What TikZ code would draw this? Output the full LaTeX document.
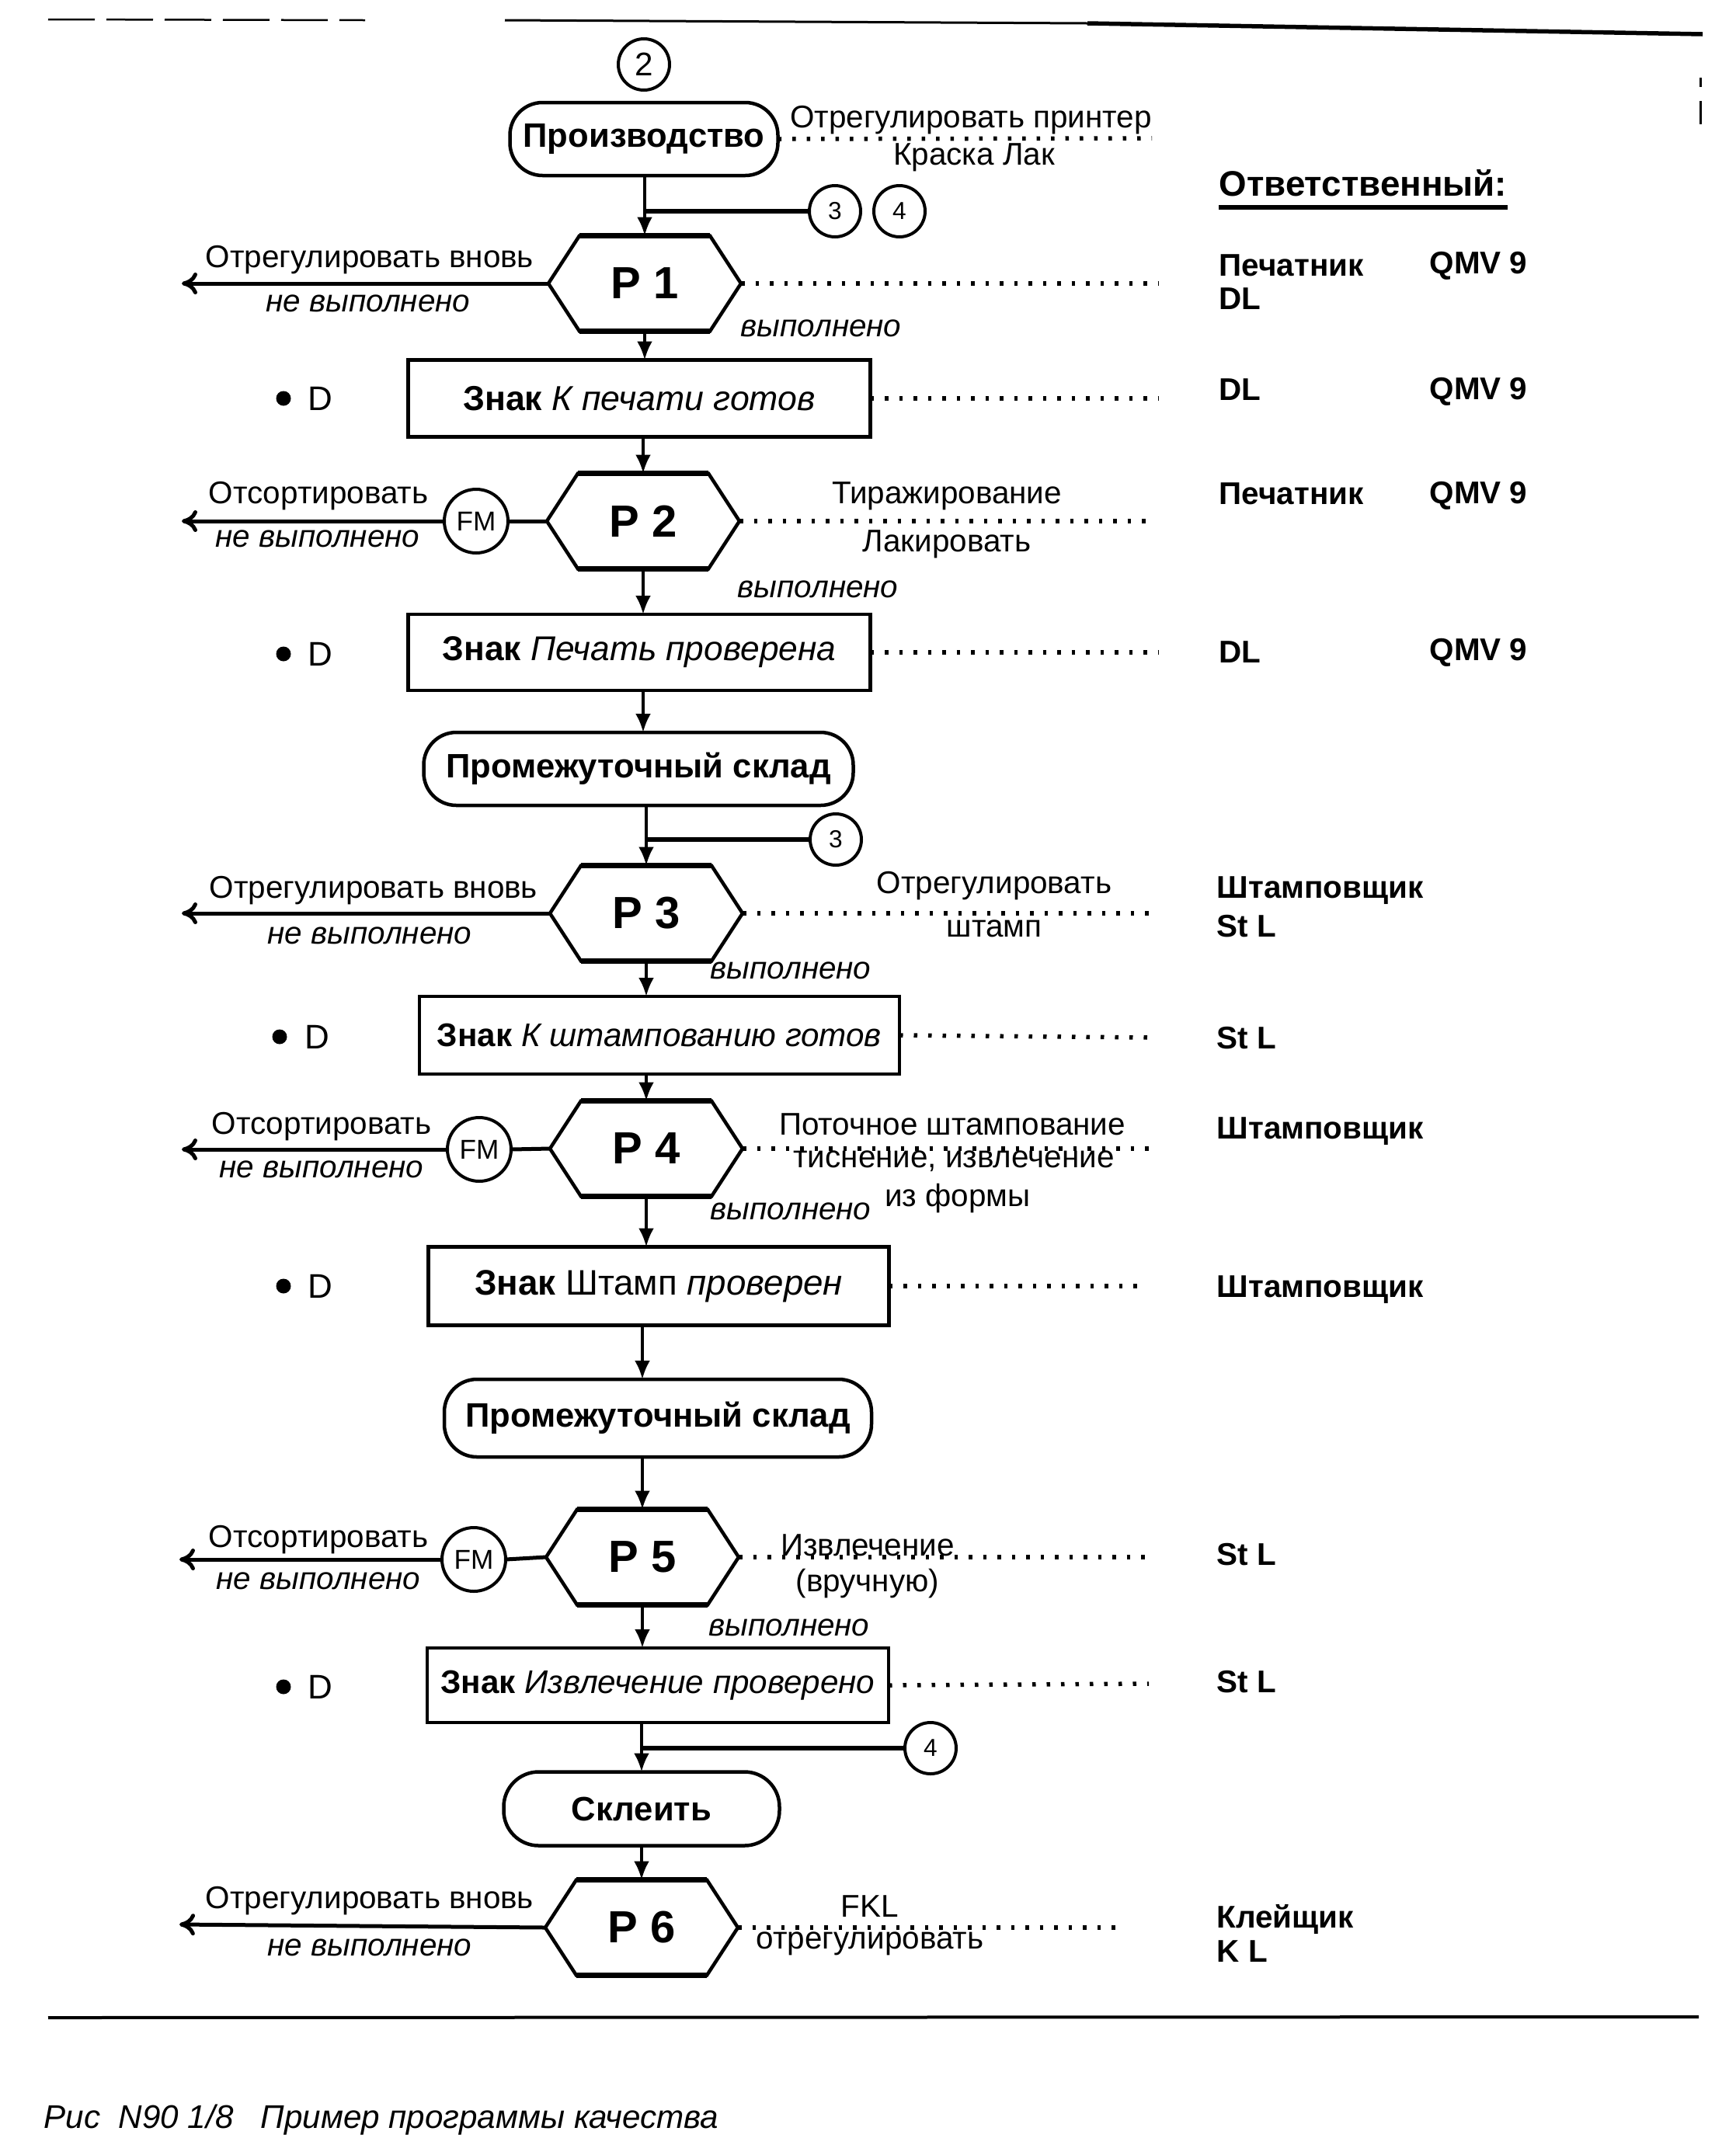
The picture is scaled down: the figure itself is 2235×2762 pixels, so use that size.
\documentclass[tikz,border=0pt]{standalone}
\usepackage{fontspec}
\setmainfont{Liberation Sans}
\usetikzlibrary{arrows.meta,calc}
\tikzset{
  shp/.style={draw, line width=0.45mm},
  hexnode/.style={inner sep=0, outer sep=0, minimum width=24.8mm, minimum height=12.3mm, font=\bfseries\fontsize{16.5}{18}\selectfont},
  boxnode/.style={shp, inner sep=0, outer sep=0, minimum height=9.9mm, font=\fontsize{12}{14}\selectfont},
  term/.style={shp, rounded corners=4.2mm, inner sep=0, outer sep=0, minimum height=9.4mm, font=\bfseries\fontsize{12.4}{14}\selectfont},
  conn/.style={draw, circle, line width=0.4mm, inner sep=0, outer sep=0, minimum size=6.6mm, font=\fontsize{9}{10}\selectfont},
  fmnode/.style={conn, minimum size=8.2mm, font=\fontsize{10}{11}\selectfont},
  flow/.style={line width=0.4mm, -{Latex[length=2.4mm,width=2mm]}},
  branch/.style={line width=0.55mm},
  back/.style={line width=0.5mm, -{To[length=2mm,width=2.8mm]}},
  dots/.style={line width=0.55mm, dash pattern=on 0.45mm off 1.4mm},
  lbl/.style={inner sep=0, font=\fontsize{11.5}{13}\selectfont},
  ilbl/.style={inner sep=0, font=\itshape\fontsize{11.5}{13}\selectfont},
  resp/.style={inner sep=0, anchor=west, font=\bfseries\fontsize{11.5}{13}\selectfont},
  bul/.style={circle, fill, inner sep=0, minimum size=1.9mm},
  dlbl/.style={inner sep=0, font=\fontsize{12.5}{14}\selectfont}
}
\newcommand\hexframe[1]{%
  \draw[shp] (#1.west) -- ([xshift=4mm]#1.north west) -- ([xshift=-4mm]#1.north east) -- (#1.east)
     -- ([xshift=-4mm]#1.south east) -- ([xshift=4mm]#1.south west) -- cycle;
  \draw[line width=0.7mm] ([xshift=4mm]#1.north west) -- ([xshift=-4mm]#1.north east);
  \draw[line width=0.7mm] ([xshift=4mm]#1.south west) -- ([xshift=-4mm]#1.south east);}
\begin{document}
\begin{tikzpicture}[x=0.1mm,y=-0.1mm]
\fill[white] (0,0) rectangle (2235,2762);
\useasboundingbox (0,0) rectangle (2235,2762);

% frame lines
\draw[line width=0.25mm, dash pattern=on 6mm off 1.5mm] (62,25) -- (470,26);
\draw[line width=0.3mm] (650,26) -- (1400,30);
\draw[line width=0.55mm] (1400,30) -- (2192,44);
\draw[line width=0.3mm] (2189,100) -- (2189,112);
\draw[line width=0.3mm] (2189,130) -- (2189,160);
\draw[line width=0.4mm] (62,2598) -- (2187,2597);

% header
\node[conn, font=\fontsize{12}{14}\selectfont] (c2) at (829,83) {2};
\node[term, minimum width=34.5mm] (prod) at (829,179) {Производство};
\coordinate (d0) at (1483,178);
\draw[dots] (prod.east) -- (d0);
\node[lbl] (t0a) at (1250,155) {Отрегулировать принтер};
\node[lbl] (t0b) at (1254,203) {Краска Лак};
\node[conn] (c3a) at (1075,272) {3};
\node[conn] (c4a) at (1158,272) {4};
\node[resp, font=\bfseries\fontsize{13}{15}\selectfont] (hdr) at (1569,236) {Ответственный:};
\draw[line width=0.55mm] ([yshift=-1.4mm]hdr.base west) -- ([yshift=-1.4mm]hdr.base east);

% P1
\node[hexnode] (p1) at (830,365) {P 1};
\hexframe{p1}
\draw[flow] (p1.north |- prod.south) -- (p1.north);
\coordinate (j1) at (830,272);
\draw[branch] (j1) -- (c3a.west);
\coordinate (a1) at (234,365);
\draw[back] (p1.west) -- (a1);
\node[lbl] (l1a) at (476,335) {Отрегулировать вновь};
\node[ilbl] (l1b) at (474,391) {не выполнено};
\coordinate (d1) at (1492,365);
\draw[dots] (p1.east) -- (d1);
\node[ilbl] (y1) at (1057,423) {выполнено};
\node[resp] (r1a) at (1569,342) {Печатник};
\node[resp] (r1b) at (1840,342) {QMV 9};
\node[resp] (r1c) at (1569,385) {DL};

% K1
\node[boxnode, minimum width=59.5mm, font=\fontsize{12.7}{14}\selectfont] (k1) at (823,513) {\textbf{Знак} \textit{К печати готов}};
\draw[flow] (p1.south) -- (p1.south |- k1.north);
\node[bul] (bu1) at (365,513) {};
\node[dlbl] (dd1) at (412,513) {D};
\coordinate (d2) at (1492,513);
\draw[dots] (k1.east) -- (d2);
\node[resp] (r2a) at (1569,502) {DL};
\node[resp] (r2b) at (1840,504) {QMV 9};

% P2
\node[hexnode] (p2) at (828,671) {P 2};
\hexframe{p2}
\draw[flow] (p2.north |- k1.south) -- (p2.north);
\node[fmnode] (fm2) at (613,671) {FM};
\draw[line width=0.5mm] (p2.west) -- (fm2.east);
\coordinate (a2) at (234,671);
\draw[back] (fm2.west) -- (a2);
\node[lbl] (l2a) at (410,639) {Отсортировать};
\node[ilbl] (l2b) at (409,694) {не выполнено};
\coordinate (d3) at (1476,671);
\draw[dots] (p2.east) -- (d3);
\node[lbl] (t2a) at (1219,639) {Тиражирование};
\node[lbl] (t2b) at (1219,701) {Лакировать};
\node[ilbl] (y2) at (1053,759) {выполнено};
\node[resp] (r3a) at (1569,636) {Печатник};
\node[resp] (r3b) at (1840,638) {QMV 9};

% K2
\node[boxnode, minimum width=59.5mm, minimum height=9.8mm, font=\fontsize{12.6}{14}\selectfont] (k2) at (823,840) {\textbf{Знак} \textit{Печать проверена}};
\draw[flow] (p2.south) -- (p2.south |- k2.north);
\node[bul] (bu2) at (365,842) {};
\node[dlbl] (dd2) at (412,842) {D};
\coordinate (d4) at (1492,840);
\draw[dots] (k2.east) -- (d4);
\node[resp] (r4a) at (1569,840) {DL};
\node[resp] (r4b) at (1840,840) {QMV 9};

% store 1
\node[term, minimum width=55.3mm] (ps1) at (822,990) {Промежуточный склад};
\draw[flow] (p2.south |- k2.south) -- (p2.south |- ps1.north);
\node[conn] (c3b) at (1076,1081) {3};

% P3
\node[hexnode] (p3) at (832,1176) {P 3};
\hexframe{p3}
\draw[flow] (p3.north |- ps1.south) -- (p3.north);
\draw[branch] (p3.north |- c3b) -- (c3b.west);
\coordinate (a3) at (234,1176);
\draw[back] (p3.west) -- (a3);
\node[lbl] (l3a) at (481,1147) {Отрегулировать вновь};
\node[ilbl] (l3b) at (476,1205) {не выполнено};
\coordinate (d5) at (1488,1176);
\draw[dots] (p3.east) -- (d5);
\node[lbl] (t3a) at (1280,1141) {Отрегулировать};
\node[lbl] (t3b) at (1280,1196) {штамп};
\node[ilbl] (y3) at (1018,1250) {выполнено};
\node[resp] (r5a) at (1566,1147) {Штамповщик};
\node[resp] (r5b) at (1566,1193) {St L};

% K3
\node[boxnode, minimum width=61.8mm, minimum height=10mm] (k3) at (849,1333) {\textbf{Знак} \textit{К штампованию готов}};
\draw[flow] (p3.south) -- (p3.south |- k3.north);
\node[bul] (bu3) at (360,1335) {};
\node[dlbl] (dd3) at (408,1335) {D};
\coordinate (d6) at (1479,1336);
\draw[dots] (k3.east) -- (d6);
\node[resp] (r6a) at (1566,1337) {St L};

% P4
\node[hexnode] (p4) at (832,1479) {P 4};
\hexframe{p4}
\draw[flow] (p4.north |- k3.south) -- (p4.north);
\node[fmnode] (fm4) at (617,1480) {FM};
\draw[line width=0.5mm] (p4.west) -- (fm4.east);
\coordinate (a4) at (234,1480);
\draw[back] (fm4.west) -- (a4);
\node[lbl] (l4a) at (414,1451) {Отсортировать};
\node[ilbl] (l4b) at (414,1506) {не выполнено};
\coordinate (d7) at (1479,1479);
\draw[dots] (p4.east) -- (d7);
\node[lbl] (t4a) at (1226,1448) {Поточное штампование};
\node[lbl] (t4b) at (1228,1495) {тиснение, извлечение};
\node[lbl] (t4c) at (1233,1543) {из формы};
\node[ilbl] (y4) at (1018,1560) {выполнено};
\node[resp] (r7a) at (1566,1457) {Штамповщик};

% K4
\node[boxnode, minimum width=59.3mm, minimum height=10.1mm, font=\fontsize{13}{15}\selectfont] (k4) at (848,1656) {\textbf{Знак} Штамп \textit{проверен}};
\draw[flow] (p4.south) -- (p4.south |- k4.north);
\node[bul] (bu4) at (365,1656) {};
\node[dlbl] (dd4) at (412,1656) {D};
\coordinate (d8) at (1476,1656);
\draw[dots] (k4.east) -- (d8);
\node[resp] (r8a) at (1566,1661) {Штамповщик};

% store 2
\node[term, minimum width=55mm, minimum height=10mm] (ps2) at (847,1826) {Промежуточный склад};

% P5
\node[hexnode] (p5) at (827,2005) {P 5};
\hexframe{p5}
\draw[flow] (p5.north |- k4.south) -- (p5.north |- ps2.north);
\draw[flow] (p5.north |- ps2.south) -- (p5.north);
\node[fmnode] (fm5) at (610,2008) {FM};
\draw[line width=0.5mm] (p5.west) -- (fm5.east);
\coordinate (a5) at (231,2008);
\draw[back] (fm5.west) -- (a5);
\node[lbl] (l5a) at (410,1983) {Отсортировать};
\node[ilbl] (l5b) at (410,2036) {не выполнено};
\coordinate (d9) at (1476,2005);
\draw[dots] (p5.east) -- (d9);
\node[lbl] (t5a) at (1117,1990) {Извлечение};
\node[lbl] (t5b) at (1117,2039) {(вручную)};
\node[ilbl] (y5) at (1016,2096) {выполнено};
\node[resp] (r9a) at (1566,2002) {St L};

% K5
\node[boxnode, minimum width=59.4mm, minimum height=9.6mm] (k5) at (847,2170) {\textbf{Знак} \textit{Извлечение проверено}};
\draw[flow] (p5.south) -- (p5.south |- k5.north);
\node[bul] (bu5) at (365,2172) {};
\node[dlbl] (dd5) at (412,2172) {D};
\coordinate (d10) at (1479,2168);
\draw[dots] (k5.east) -- (d10);
\node[resp] (r10a) at (1566,2166) {St L};

% glue
\node[term, minimum width=35.5mm, minimum height=9.5mm, rounded corners=4.5mm] (skl) at (826,2329) {Склеить};
\node[conn] (c4b) at (1198,2251) {4};
\draw[flow] (skl.north |- k5.south) -- (skl.north);
\draw[branch] (skl.north |- c4b) -- (c4b.west);

% P6
\node[hexnode] (p6) at (826,2482) {P 6};
\hexframe{p6}
\draw[flow] (skl.south) -- (p6.north);
\coordinate (a6) at (231,2478);
\draw[back] (p6.west) -- (a6);
\node[lbl] (l6a) at (476,2448) {Отрегулировать вновь};
\node[ilbl] (l6b) at (476,2508) {не выполнено};
\coordinate (d11) at (1444,2482);
\draw[dots] (p6.east) -- (d11);
\node[lbl] (t6a) at (1120,2455) {FKL};
\node[lbl] (t6b) at (1120,2503) {отрегулировать};
\node[resp] (r11a) at (1566,2471) {Клейщик};
\node[resp] (r11b) at (1566,2513) {K L};

% caption
\node[anchor=west, inner sep=0, font=\itshape\fontsize{12}{14}\selectfont] (cap) at (56,2730) {Рис\ \ N90 1/8\ \ \ Пример программы качества};
\end{tikzpicture}
\end{document}
